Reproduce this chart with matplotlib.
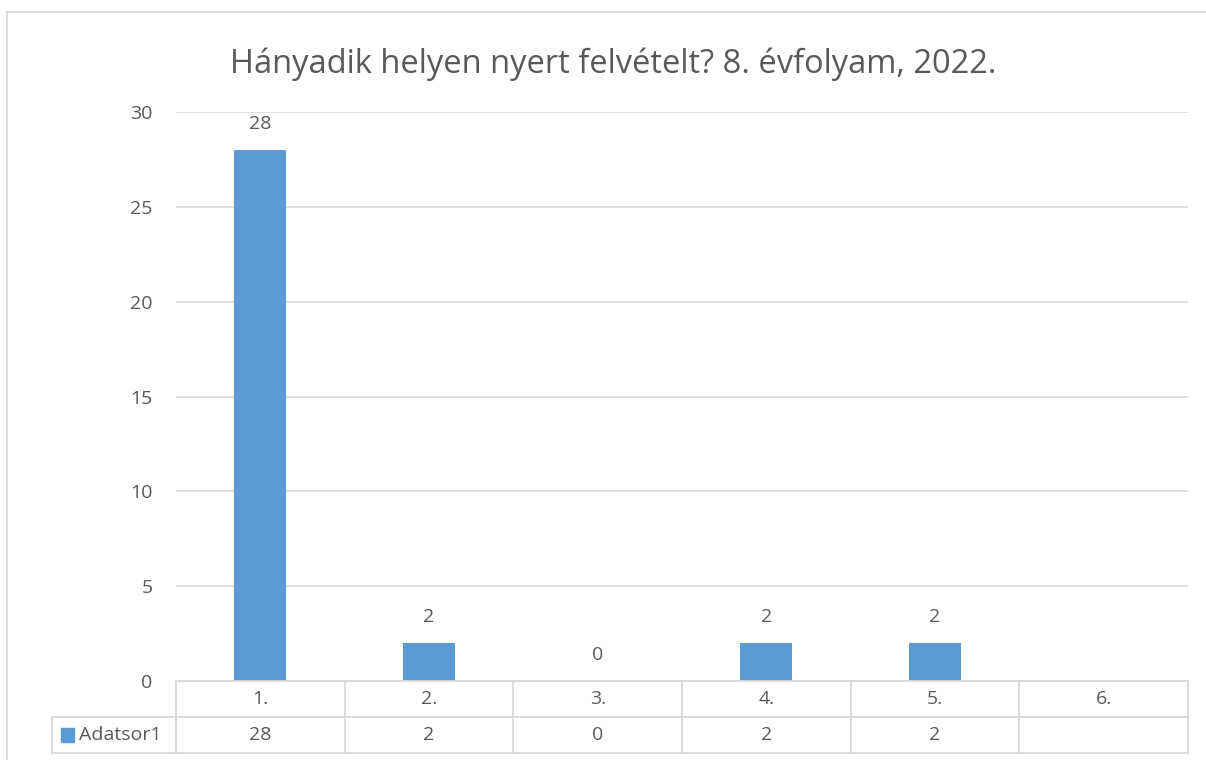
import numpy as np
import matplotlib
matplotlib.use("Agg")
import matplotlib.pyplot as plt
from matplotlib.lines import Line2D
from matplotlib.patches import Rectangle

# ---- data ----
categories = ["1.", "2.", "3.", "4.", "5.", "6."]
values = [28, 2, 0, 2, 2, None]
series_name = "Adatsor1"
title = "Hányadik helyen nyert felvételt? 8. évfolyam, 2022."
yticks = [0, 5, 10, 15, 20, 25, 30]

# ---- style ----
W, H = 1206, 760
BAR = "#5B9BD5"
TXT = "#595959"
GRID = "#D9D9D9"
FONT = ["Open Sans", "DejaVu Sans"]
plt.rcParams["font.family"] = FONT
FS = 14

fig = plt.figure(figsize=(W / 100, H / 100), dpi=100)

def fx(x):
    return x / W

def fy(y):
    return 1 - y / H

# outer chart border
fig.add_artist(Line2D([fx(7), fx(7)], [fy(12), fy(760)], color=GRID, lw=1.3))
fig.add_artist(Line2D([fx(7), fx(1206)], [fy(12), fy(12)], color=GRID, lw=1.3))

# plot area
L, R, T, B = 176, 1188, 112, 681
ax = fig.add_axes([fx(L), fy(B), fx(R) - fx(L), fy(T) - fy(B)])
n = len(categories)
x = np.arange(n)
ax.set_xlim(-0.5, n - 0.5)
ax.set_ylim(0, 30)
vals = np.array([np.nan if v is None else v for v in values], dtype=float)
ax.bar(x, np.nan_to_num(vals), width=0.31, color=BAR, zorder=3)
for xi, v in zip(x, vals):
    if not np.isnan(v):
        ax.annotate(f"{int(v)}", (xi, v), xytext=(0, 12), textcoords="offset points",
                    ha="center", va="bottom", fontsize=FS, color=TXT)
ax.set_yticks(yticks)
ax.yaxis.grid(True, color=GRID, lw=1.2, zorder=0)
ax.set_xticks([])
ax.tick_params(axis="y", length=0, pad=17, labelsize=FS, labelcolor=TXT)
for s in ax.spines.values():
    s.set_visible(False)
ax.set_facecolor("none")

fig.text(0.5 * (fx(226) + fx(1000)), fy(64), title, ha="center", va="center",
         fontsize=23.5, color=TXT)

# data table
TT, TM, TB = 681, 716, 753
tax = fig.add_axes([fx(L), fy(TB), fx(R) - fx(L), fy(TT) - fy(TB)])
tax.set_xlim(-0.5, n - 0.5)
tax.set_ylim(0, 2)
tax.axis("off")
colw = (R - L) / n
leg_left = -0.5 - (L - 52) / colw
kw = dict(color=GRID, lw=1.3, clip_on=False)
tax.plot([-0.5, n - 0.5], [2, 2], **kw)
tax.plot([leg_left, n - 0.5], [1, 1], **kw)
tax.plot([leg_left, n - 0.5], [0, 0], **kw)
tax.plot([leg_left, leg_left], [0, 1], **kw)
for b in np.arange(n + 1) - 0.5:
    tax.plot([b, b], [0, 2], **kw)
for xi, c, v in zip(x, categories, vals):
    tax.text(xi, 1.5, c, ha="center", va="center", fontsize=FS, color=TXT)
    if not np.isnan(v):
        tax.text(xi, 0.5, f"{int(v)}", ha="center", va="center", fontsize=FS, color=TXT)
# legend key
sq = (74 - 61) / colw
tax.add_patch(Rectangle((-0.5 - (L - 61) / colw, 0.5 - 0.19), sq, 0.38,
                        color=BAR, clip_on=False, transform=tax.transData))
tax.text(-0.5 - (L - 79) / colw, 0.5, series_name, ha="left", va="center",
         fontsize=FS, color=TXT)

fig.savefig("out.png", dpi=100)
